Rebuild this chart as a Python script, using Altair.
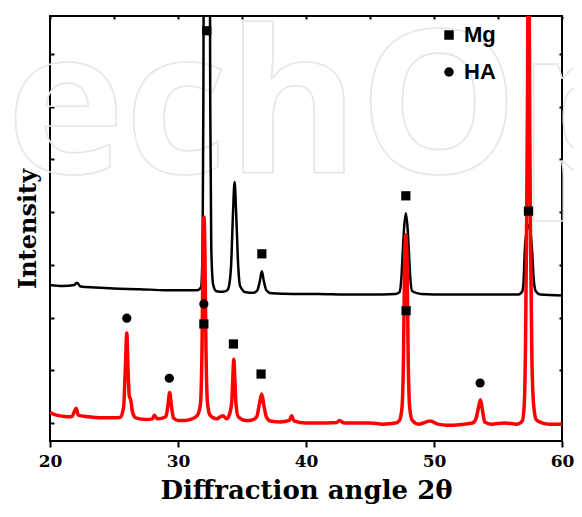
import altair as alt
import pandas as pd

# ---- data ----
# black pattern (upper curve)
black_x = [20.0, 21.0, 21.9, 22.1, 22.4, 23.5, 25.0, 27.0, 29.0, 30.5, 31.5, 31.8,
           31.92, 31.98, 32.05, 32.45, 32.52, 32.6, 32.75, 33.0, 33.5, 33.85, 34.0,
           34.15, 34.3, 34.42, 34.54, 34.7, 34.85, 35.3, 35.9, 36.2, 36.4, 36.55,
           36.7, 36.9, 37.3, 39.0, 41.0, 43.0, 45.0, 47.0, 47.3, 47.45, 47.55,
           47.65, 47.8, 47.95, 48.05, 48.15, 48.3, 49.0, 51.0, 53.0, 55.0, 56.6,
           56.9, 57.0, 57.1, 57.25, 57.4, 57.55, 57.68, 57.8, 57.95, 58.3, 60.0]
black_y = [2.62, 2.60, 2.62, 2.66, 2.59, 2.57, 2.55, 2.54, 2.52, 2.52, 2.52, 2.58,
           3.3, 6.0, 12.0, 12.0, 6.0, 3.3, 2.62, 2.5, 2.49, 2.52, 2.62,
           3.0, 4.0, 4.57, 4.0, 3.0, 2.6, 2.48, 2.47, 2.52, 2.70, 2.88,
           2.70, 2.52, 2.46, 2.45, 2.45, 2.44, 2.44, 2.45, 2.48, 2.75, 3.2,
           3.65, 3.98, 3.65, 3.2, 2.75, 2.5, 2.45, 2.44, 2.44, 2.44, 2.44,
           2.5, 2.7, 3.3, 3.65, 3.75, 3.6, 3.2, 2.7, 2.5, 2.44, 2.42]

# red pattern (lower curve)
red_x = [20.0, 20.5, 21.0, 21.7, 21.9, 22.05, 22.2, 23.0, 24.0, 25.0, 25.5, 25.75,
         25.88, 26.0, 26.1, 26.2, 26.3, 26.45, 26.7, 27.5, 28.0, 28.15, 28.4, 29.05,
         29.2, 29.35, 29.5, 29.65, 30.0, 30.5, 31.0, 31.5, 31.75, 31.88, 31.96,
         32.03, 32.1, 32.18, 32.3, 32.5, 33.0, 33.5, 33.8, 34.0, 34.2, 34.28,
         34.36, 34.44, 34.52, 34.7, 35.3, 35.8, 36.15, 36.35, 36.54, 36.7, 36.9,
         37.2, 38.0, 38.7, 38.88, 39.05, 40.0, 41.0, 42.4, 42.6, 43.0, 45.0, 46.0,
         47.0, 47.3, 47.5, 47.62, 47.7, 47.8, 47.9, 47.98, 48.1, 48.3, 48.8, 49.7,
         50.3, 51.0, 52.0, 53.0, 53.3, 53.48, 53.63, 53.78, 53.96, 54.5, 55.5, 56.5,
         56.9, 57.05, 57.15, 57.22, 57.3, 57.36, 57.42, 57.48, 57.55, 57.65, 57.8,
         58.0, 58.5, 59.0, 60.0]
red_y = [0.20, 0.15, 0.13, 0.12, 0.22, 0.28, 0.15, 0.12, 0.10, 0.10, 0.11, 0.3,
         1.0, 1.71, 1.0, 0.5, 0.45, 0.2, 0.1, 0.07, 0.08, 0.15, 0.08, 0.12,
         0.3, 0.58, 0.3, 0.1, 0.05, 0.05, 0.07, 0.14, 0.35, 1.5, 3.3,
         3.91, 3.3, 1.5, 0.4, 0.15, 0.08, 0.14, 0.08, 0.15, 0.4, 0.85,
         1.21, 0.85, 0.4, 0.12, 0.05, 0.06, 0.12, 0.35, 0.55, 0.35, 0.12,
         0.04, 0.02, 0.05, 0.14, 0.04, 0.0, 0.0, 0.01, 0.05, 0.0, 0.0, -0.02,
         0.0, 0.05, 0.3, 1.3, 3.0, 3.57, 3.0, 1.3, 0.3, 0.05, -0.02, 0.04,
         -0.02, -0.04, -0.03, 0.0, 0.1, 0.3, 0.44, 0.25, 0.02, -0.02, 0.0, -0.02,
         0.04, 0.35, 1.5, 3.3, 6.0, 9.0, 9.0, 5.6, 3.3, 1.2, 0.3,
         0.06, 0.0, -0.02, -0.02]

# phase markers
mg_x = [32.25, 36.55, 47.8, 57.38, 32.02, 34.33, 36.49, 47.82]
mg_y = [7.44, 3.21, 4.31, 4.02, 1.88, 1.50, 0.93, 2.13]
ha_x = [26.0, 29.32, 32.02, 53.6]
ha_y = [1.99, 0.85, 2.26, 0.76]

x_ticks = [20, 30, 40, 50, 60]
x_minor = [20, 25, 30, 35, 40, 45, 50, 55, 60]
y_ticks = [0, 1, 2, 3, 4, 5, 6, 7]

black = pd.DataFrame({"angle": black_x, "intensity": black_y})
red = pd.DataFrame({"angle": red_x, "intensity": red_y})
markers = pd.DataFrame({
    "angle": mg_x + ha_x,
    "intensity": mg_y + ha_y,
    "phase": ["Mg"] * len(mg_x) + ["HA"] * len(ha_x),
})

xscale = alt.Scale(domain=[20, 60], nice=False, zero=False)
yscale = alt.Scale(domain=[-0.34, 7.72], nice=False, zero=False)

serif = "DejaVu Serif"

x_bottom = alt.Axis(values=x_ticks, labelFlush=False, tickSize=6, tickWidth=2,
                    tickColor="black", labelFont=serif, labelFontWeight="bold",
                    labelFontSize=17, labelColor="black", labelPadding=6,
                    title="Diffraction angle 2θ", titleFont=serif,
                    titleFontWeight="bold", titleFontSize=26, titleColor="black",
                    titleY=57, titleBaseline="alphabetic")
y_left = alt.Axis(values=y_ticks, labels=False, tickSize=4, tickWidth=2,
                  tickColor="black", offset=-4, title="Intensity", titleFont=serif,
                  titleFontWeight="bold", titleFontSize=24, titleColor="black",
                  titleX=-26, titleBaseline="middle")
x_top = alt.Axis(orient="top", values=x_minor, labels=False, tickSize=3,
                 tickWidth=2, tickColor="black", offset=-3, title="")
y_right = alt.Axis(orient="right", values=y_ticks, labels=False, tickSize=3,
                   tickWidth=2, tickColor="black", offset=-3, title="")

watermark = alt.Chart(pd.DataFrame({"t": ["IntechOpen"]})).mark_text(
    font="Open Sans", fontWeight="bold", fontSize=200, align="left",
    baseline="alphabetic", fillOpacity=0, stroke="#e6e6e6", strokeWidth=1.6,
).encode(text="t:N", x=alt.value(-328), y=alt.value(157))

black_line = alt.Chart(black).mark_line(
    color="black", strokeWidth=2.5, clip=True, interpolate="monotone"
).encode(
    x=alt.X("angle:Q", scale=xscale, axis=x_bottom),
    y=alt.Y("intensity:Q", scale=yscale, axis=y_left),
)

red_line = alt.Chart(red).mark_line(
    color="#ff0000", strokeWidth=3.5, clip=True, interpolate="monotone"
).encode(
    x=alt.X("angle:Q", scale=xscale, axis=x_top),
    y=alt.Y("intensity:Q", scale=yscale, axis=y_right),
)

points = alt.Chart(markers).mark_point(
    filled=True, color="black", size=85, opacity=1
).encode(
    x=alt.X("angle:Q", scale=xscale, axis=None),
    y=alt.Y("intensity:Q", scale=yscale, axis=None),
    shape=alt.Shape(
        "phase:N",
        scale=alt.Scale(domain=["Mg", "HA"], range=["square", "circle"]),
        legend=alt.Legend(title=None, orient="none", legendX=388, legendY=8,
                          symbolSize=90, symbolFillColor="black",
                          symbolStrokeColor="black", symbolOpacity=1,
                          labelFont="Liberation Sans", labelFontWeight="bold",
                          labelFontSize=22, labelColor="black", labelOffset=4,
                          rowPadding=15),
    ),
)

chart = alt.layer(watermark, black_line, red_line, points).resolve_axis(
    x="independent", y="independent"
).properties(
    width=512, height=425,
    padding={"left": 42, "top": 8, "right": 12, "bottom": 64},
    autosize=alt.AutoSizeParams(type="none"),
).configure_axis(grid=False, domain=False).configure_view(
    stroke="black", strokeWidth=2
)

chart.save("out.html", embed_options={"renderer": "svg", "actions": False})
